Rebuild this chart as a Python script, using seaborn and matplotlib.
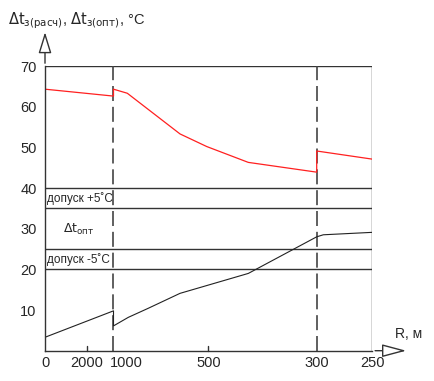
import matplotlib
matplotlib.use("Agg")
import matplotlib.pyplot as plt
import numpy as np
import pandas as pd
import seaborn as sns

# Positions along the R axis (non-linear scale -> use drawing positions)
r_tick_pos = [0, 41.7, 81, 163.3, 271.7, 327.3]
r_tick_labels = ["0", "2000", "1000", "500", "300", "250"]
zone_edges = [68.5, 271.7]

# Δt_з(расч) — red curve
calc_x = [0, 68.5, 68.5, 82.3, 135, 161.7, 203.3, 271.7, 271.7, 327.3]
calc_y = [64.3, 62.6, 64.3, 63.3, 53.3, 50.2, 46.3, 43.9, 49.1, 47.1]

# Δt_з(опт) — black curve
opt_x = [0, 68.5, 68.5, 83.3, 103, 135, 203.3, 271.7, 278.3, 327.3]
opt_y = [3.3, 9.8, 6.1, 8.2, 10.4, 14.1, 19.0, 28.0, 28.5, 29.1]

# horizontal tolerance bands
band_levels = [40, 35, 25, 20]

sns.set_style("white")
plt.rcParams["font.family"] = ["Liberation Sans", "DejaVu Sans"]

fig = plt.figure(figsize=(4.34, 3.81), dpi=100)
ax = fig.add_axes([45 / 434, 30.3 / 381, 327.3 / 434, 284.7 / 381])

frame = "#333333"
df_calc = pd.DataFrame({"x": calc_x, "y": calc_y})
df_opt = pd.DataFrame({"x": opt_x, "y": opt_y})
sns.lineplot(data=df_calc, x="x", y="y", sort=False, estimator=None,
             color="#ff2020", lw=0.9, ax=ax)
sns.lineplot(data=df_opt, x="x", y="y", sort=False, estimator=None,
             color="#222222", lw=0.8, ax=ax)

for lvl in band_levels + [70]:
    ax.axhline(lvl, color=frame, lw=1.0, zorder=1)
for xe in zone_edges:
    ax.axvline(xe, color="#444444", lw=1.2, ls=(0, (9, 3.5)), zorder=1)
ax.axvline(327.3, color=frame, lw=1.0, zorder=1)

ax.set_xlim(0, 327.3)
ax.set_ylim(0, 70)
ax.set_xticks(r_tick_pos)
ax.set_xticklabels(r_tick_labels, fontsize=10.5)
ax.set_yticks([10, 20, 30, 40, 50, 60, 70])
ax.set_yticklabels(["10", "20", "30", "40", "50", "60", "70"], fontsize=10.5)
ax.tick_params(axis="y", direction="out", length=4, width=1, color=frame, pad=2)
ax.tick_params(axis="x", direction="out", length=0, pad=4)
ax.set_xlabel("")
ax.set_ylabel("")

for s in ["top", "right"]:
    ax.spines[s].set_visible(False)
for s in ["left", "bottom"]:
    ax.spines[s].set_color(frame)
    ax.spines[s].set_linewidth(1.0)

# small tick marks on the R axis
for xt in [41.7, 163.3]:
    ax.plot([xt, xt], [0, 1.2], color=frame, lw=1.0, clip_on=False)

# arrows on axes (open triangles)
ax.annotate("", xy=(0, 79), xytext=(0, 70), xycoords="data",
            arrowprops=dict(arrowstyle="-|>,head_length=1.3,head_width=0.4",
                            fc="white", ec=frame, lw=1.0),
            annotation_clip=False)
ax.annotate("", xy=(364, 0), xytext=(327.3, 0), xycoords="data",
            arrowprops=dict(arrowstyle="-|>,head_length=1.5,head_width=0.4",
                            fc="white", ec=frame, lw=1.0),
            annotation_clip=False)

# labels
fig.text(8 / 434, 1 - 21 / 381,
         r"$\Delta\mathrm{t}_{\mathrm{з(расч)}}$, $\Delta\mathrm{t}_{\mathrm{з(опт)}}$, °C",
         fontsize=10.5, va="center", ha="left")
ax.text(350, 4.2, "R, м", fontsize=10, ha="left", va="center", clip_on=False)

ax.text(2, 37.5, "допуск +5˚C", fontsize=8.5, va="center", ha="left")
ax.text(2, 22.5, "допуск -5˚C", fontsize=8.5, va="center", ha="left")
ax.text(18, 29.8, r"$\Delta\mathrm{t}_{\mathrm{опт}}$", fontsize=9, va="center", ha="left")

fig.savefig("out.png", dpi=100)
